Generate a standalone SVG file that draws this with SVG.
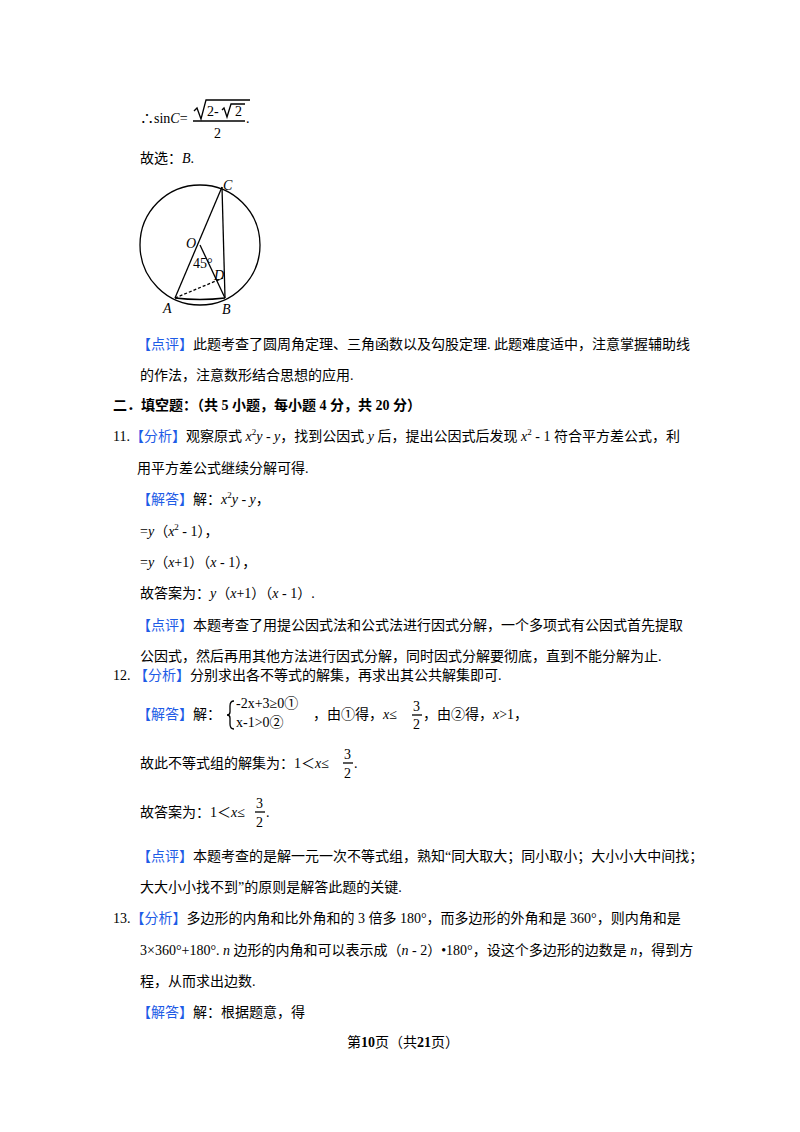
<svg xmlns="http://www.w3.org/2000/svg" width="800" height="1132" viewBox="0 0 800 1132">
<style>
text{font-family:"Liberation Serif","Noto Sans CJK SC",serif;font-size:14px;fill:#000}
.b{fill:#1e5ce6}
.i{font-style:italic}
.bd{font-weight:bold}
.s{font-size:9px}
line,path,circle{stroke:#000;fill:none;stroke-width:1.3}
</style>
<rect width="800" height="1132" fill="#fff"/>
<text x="140" y="123">∴sin<tspan class="i">C</tspan>=</text>
<path d="M194 111 l3 -3 l4 11 l5 -19 h44"/>
<text x="207" y="116">2-</text>
<path d="M222 110 l2 -2 l3 9 l4 -13 h14"/>
<text x="235" y="116">2</text>
<line x1="193" y1="121" x2="245" y2="121" stroke-width="1"/>
<text x="214" y="138">2</text>
<text x="246" y="123">.</text>
<text x="140" y="163">故选：<tspan class="i">B</tspan>.</text>
<g id="figure">
<circle cx="200" cy="245" r="60"/>
<line x1="175" y1="298" x2="222" y2="187"/>
<line x1="222" y1="187" x2="225" y2="298"/>
<line x1="200" y1="245" x2="225" y2="298"/>
<path d="M175 298 Q200 301 225 298"/>
<line x1="175" y1="298" x2="223" y2="278" stroke-dasharray="3,2" stroke-width="1"/>
<text x="223" y="190" class="i" font-size="12">C</text>
<text x="186" y="248" class="i" font-size="12">O</text>
<text x="193" y="268" font-size="10">45°</text>
<text x="214" y="280" class="i" font-size="12">D</text>
<text x="163" y="313" class="i" font-size="12">A</text>
<text x="222" y="314" class="i" font-size="12">B</text>
</g>
<text x="137" y="349"><tspan class="b">【点评】</tspan>此题考查了圆周角定理、三角函数以及勾股定理. 此题难度适中，注意掌握辅助线</text>
<text x="140" y="380">的作法，注意数形结合思想的应用.</text>
<text x="113" y="410" class="bd">二．填空题：（共 5 小题，每小题 4 分，共 20 分）</text>
<text x="113" y="441">11.<tspan class="b">【分析】</tspan>观察原式 <tspan class="i">x</tspan><tspan class="s" dy="-6">2</tspan><tspan class="i" dy="6">y</tspan> - <tspan class="i">y</tspan>，找到公因式 <tspan class="i">y</tspan> 后，提出公因式后发现 <tspan class="i">x</tspan><tspan class="s" dy="-6">2</tspan><tspan dy="6"> - 1 符合平方差公式，利</tspan></text>
<text x="137" y="473">用平方差公式继续分解可得.</text>
<text x="137" y="504"><tspan class="b">【解答】</tspan>解：<tspan class="i">x</tspan><tspan class="s" dy="-6">2</tspan><tspan class="i" dy="6">y</tspan> - <tspan class="i">y</tspan>，</text>
<text x="140" y="536">=<tspan class="i">y</tspan>（<tspan class="i">x</tspan><tspan class="s" dy="-6">2</tspan><tspan dy="6"> - 1），</tspan></text>
<text x="140" y="567">=<tspan class="i">y</tspan>（<tspan class="i">x</tspan>+1）（<tspan class="i">x</tspan> - 1），</text>
<text x="140" y="598">故答案为：<tspan class="i">y</tspan>（<tspan class="i">x</tspan>+1）（<tspan class="i">x</tspan> - 1）.</text>
<text x="137" y="630"><tspan class="b">【点评】</tspan>本题考查了用提公因式法和公式法进行因式分解，一个多项式有公因式首先提取</text>
<text x="140" y="661">公因式，然后再用其他方法进行因式分解，同时因式分解要彻底，直到不能分解为止.</text>
<text x="113" y="680">12.  <tspan class="b">【分析】</tspan>分别求出各不等式的解集，再求出其公共解集即可.</text>
<text x="137" y="719"><tspan class="b">【解答】</tspan>解：</text>
<path d="M234 701 q-4 0 -4 5 v6 q0 3 -3 3 q3 0 3 3 v6 q0 5 4 5" stroke-width="1"/>
<text x="236" y="708" font-size="13">-2x+3≥0①</text>
<text x="236" y="727" font-size="13">x-1&gt;0②</text>
<text x="313" y="719">，由①得，<tspan class="i">x</tspan>≤</text>
<text x="413" y="711">3</text><line x1="412" y1="715" x2="422" y2="715" stroke-width="1"/><text x="413" y="729">2</text>
<text x="423" y="719">，由②得，<tspan class="i">x</tspan>&gt;1，</text>
<text x="140" y="768">故此不等式组的解集为：1＜<tspan class="i">x</tspan>≤</text>
<text x="344" y="759">3</text><line x1="343" y1="763" x2="353" y2="763" stroke-width="1"/><text x="344" y="778">2</text>
<text x="354" y="768">.</text>
<text x="140" y="817">故答案为：1＜<tspan class="i">x</tspan>≤</text>
<text x="256" y="808">3</text><line x1="255" y1="812" x2="265" y2="812" stroke-width="1"/><text x="256" y="827">2</text>
<text x="266" y="817">.</text>
<text x="137" y="861"><tspan class="b">【点评】</tspan>本题考查的是解一元一次不等式组，熟知“同大取大；同小取小；大小小大中间找；</text>
<text x="140" y="892">大大小小找不到”的原则是解答此题的关键.</text>
<text x="113" y="923">13.<tspan class="b">【分析】</tspan>多边形的内角和比外角和的 3 倍多 180°，而多边形的外角和是 360°，则内角和是</text>
<text x="140" y="955">3×360°+180°. <tspan class="i">n</tspan> 边形的内角和可以表示成（<tspan class="i">n</tspan> - 2）•180°，设这个多边形的边数是 <tspan class="i">n</tspan>，得到方</text>
<text x="140" y="986">程，从而求出边数.</text>
<text x="137" y="1017"><tspan class="b">【解答】</tspan>解：根据题意，得</text>
<text x="347" y="1047" font-size="12">第<tspan class="bd" font-size="14">10</tspan>页（共<tspan class="bd" font-size="14">21</tspan>页）</text>
</svg>
